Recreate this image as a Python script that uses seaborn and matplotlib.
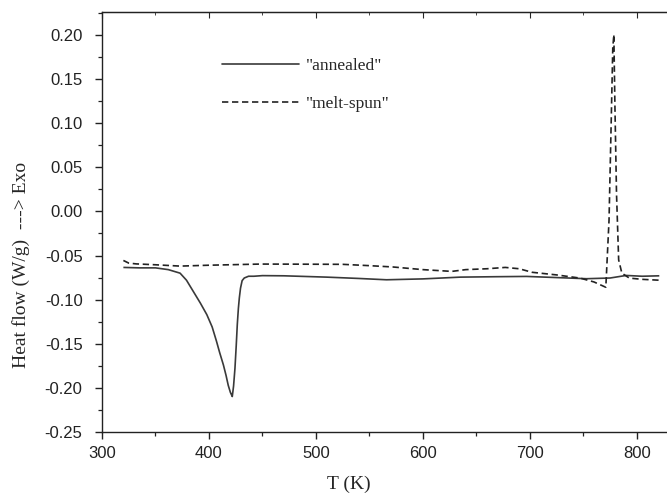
import numpy as np
import pandas as pd
import matplotlib
matplotlib.use("Agg")
import matplotlib.pyplot as plt
from matplotlib.ticker import MultipleLocator, FormatStrFormatter
from matplotlib.lines import Line2D
import seaborn as sns

# DSC traces: temperature (K) and heat flow (W/g), exothermic up
annealed_T = [320, 335, 350, 362, 373, 379, 385, 392, 398, 403, 407, 410, 413.5, 416, 418,
              420, 421.8, 423, 424.3, 425.5, 426.5, 427.5, 428.4, 429.5, 431, 433, 437,
              442, 450, 470, 510, 540, 566, 600, 635, 670, 697, 725, 753, 775, 790,
              805, 821]
annealed_Q = [-0.0635, -0.064, -0.064, -0.066, -0.070, -0.078, -0.090, -0.104, -0.117,
              -0.131, -0.147, -0.160, -0.174, -0.186, -0.197, -0.205, -0.2098, -0.198,
              -0.178, -0.152, -0.128, -0.110, -0.098, -0.087, -0.0785, -0.0755, -0.0735,
              -0.0735, -0.0728, -0.073, -0.0745, -0.076, -0.0775, -0.0765, -0.0745,
              -0.074, -0.0737, -0.075, -0.0763, -0.0755, -0.0726, -0.0735, -0.073]

meltspun_T = [320, 325, 332, 350, 373, 400, 448, 480, 525, 550, 572, 600, 627, 640, 660,
              677, 690, 702, 725, 747, 760, 771, 774, 776, 777.5, 778.5, 779.5, 781,
              783, 786, 793, 805, 821]
meltspun_Q = [-0.0556, -0.0586, -0.0595, -0.0605, -0.062, -0.061, -0.0597, -0.0598,
              -0.060, -0.0615, -0.063, -0.066, -0.068, -0.066, -0.065, -0.0635, -0.065,
              -0.069, -0.072, -0.0756, -0.080, -0.086, -0.010, 0.100, 0.185, 0.2004,
              0.120, 0.020, -0.055, -0.070, -0.0756, -0.077, -0.078]

series_names = ['"annealed"', '"melt-spun"']

df = pd.concat([
    pd.DataFrame({"T": annealed_T, "Q": annealed_Q, "sample": series_names[0]}),
    pd.DataFrame({"T": meltspun_T, "Q": meltspun_Q, "sample": series_names[1]}),
])

sns.set_style("ticks")
plt.rcParams["font.family"] = ["Liberation Sans", "DejaVu Sans"]

fig = plt.figure(figsize=(6.67, 4.99), dpi=100)
ax = fig.add_axes([0.1529, 0.1343, 0.850, 0.8417])

dash_pattern = (3.8, 2.2)
sns.lineplot(data=df, x="T", y="Q", hue="sample", style="sample",
             palette=["#3a3a3a", "#222222"], dashes=[(1, 0), dash_pattern],
             linewidth=1.2, sort=False, estimator=None, ax=ax, legend=False)

ax.set_xlim(300, 830)
ax.set_ylim(-0.25, 0.226)
ax.xaxis.set_major_locator(MultipleLocator(100))
ax.xaxis.set_minor_locator(MultipleLocator(50))
ax.yaxis.set_major_locator(MultipleLocator(0.05))
ax.yaxis.set_minor_locator(MultipleLocator(0.025))
ax.yaxis.set_major_formatter(FormatStrFormatter("%.2f"))

for sp in ax.spines.values():
    sp.set_linewidth(1.0)
    sp.set_color("#222222")

ax.tick_params(which="major", direction="out", length=5, width=1.0,
               labelsize=12, colors="#222222")
ax.tick_params(which="minor", direction="out", length=3, width=0.9, colors="#222222")
ax.tick_params(axis="y", which="major", pad=9)
ax.tick_params(axis="x", which="major", pad=5)

# ticks along the upper frame point inward
top = ax.secondary_xaxis("top")
top.xaxis.set_major_locator(MultipleLocator(100))
top.xaxis.set_minor_locator(MultipleLocator(50))
top.tick_params(which="major", direction="in", length=4, labeltop=False)
top.tick_params(which="minor", direction="in", length=2.5)

serif = ["Liberation Serif", "DejaVu Serif"]
ax.set_xlabel("T (K)", fontsize=14, family=serif)
ax.set_ylabel("Heat flow (W/g)  ---> Exo", fontsize=14, family=serif)
ax.xaxis.set_label_coords(0.436, -0.105)
ax.yaxis.set_label_coords(-0.127, 0.398)

# legend drawn as line samples with quoted labels
handles = [Line2D([], [], color="#3a3a3a", lw=1.2),
           Line2D([], [], color="#222222", lw=1.2, dashes=dash_pattern)]
leg = ax.legend(handles, series_names, loc="upper left",
                bbox_to_anchor=(0.310, 0.915), bbox_transform=fig.transFigure,
                frameon=False, handlelength=4.4, handletextpad=0.4,
                labelspacing=1.25, prop={"family": serif, "size": 12.5})

fig.savefig("out.png", dpi=100)
